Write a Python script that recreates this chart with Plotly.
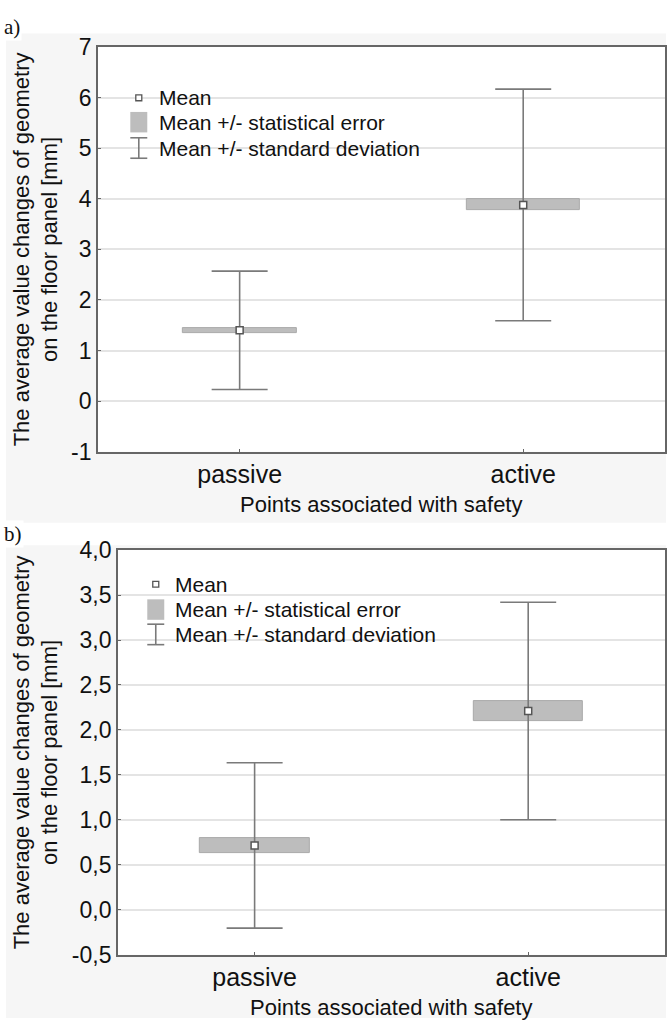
import plotly.graph_objects as go

# ---------------- data ----------------
categories = ["passive", "active"]
cat_pos = [0, 1]

# panel a
mean_a = [1.40, 3.88]
se_a = [0.05, 0.105]
sd_a = [1.17, 2.29]
yticks_a = [-1, 0, 1, 2, 3, 4, 5, 6, 7]
yticklabels_a = ["-1", "0", "1", "2", "3", "4", "5", "6", "7"]

# panel b
mean_b = [0.715, 2.21]
se_b = [0.085, 0.115]
sd_b = [0.92, 1.21]
yticks_b = [-0.5, 0.0, 0.5, 1.0, 1.5, 2.0, 2.5, 3.0, 3.5, 4.0]
yticklabels_b = ["-0,5", "0,0", "0,5", "1,0", "1,5", "2,0", "2,5", "3,0", "3,5", "4,0"]

legend_labels = ["Mean", "Mean +/- statistical error", "Mean +/- standard deviation"]
ytitle = "The average value changes of geometry<br>on the floor panel [mm]"
xtitle = "Points associated with safety"

# ---------------- layout geometry (pixels) ----------------
W, H = 667, 1031
FONT = "Liberation Sans, Arial, sans-serif"
BAR_COL = "#bdbdbd"
BAR_EDGE = "#a9a9a9"
ERR_COL = "#7a7a7a"
GRID_COL = "#e4e4e4"
AXIS_COL = "#666666"

def px(x):
    return x / W

def py(y):
    return 1 - y / H

panels = [
    dict(left=98, right=666, top=35, bottom=450, mean=mean_a, se=se_a, sd=sd_a,
         yr=[-1, 7], yt=yticks_a, ytl=yticklabels_a, label="a)", label_y=14,
         grey=(6, 21, 667, 523), leg_x=98, leg_dx_marker=41, leg_dx_text=59,
         leg_y=[87, 112, 139], xtitle_y=504, ytitle_x=36),
    dict(left=118, right=666, top=551, bottom=966, mean=mean_b, se=se_b, sd=sd_b,
         yr=[-0.5, 4.0], yt=yticks_b, ytl=yticklabels_b, label="b)", label_y=534,
         grey=(6, 546, 667, 1031), leg_x=118, leg_dx_marker=38, leg_dx_text=55,
         leg_y=[586, 612, 638], xtitle_y=1020, ytitle_x=36),
]

fig = go.Figure()
shapes = []
annotations = []

for i, p in enumerate(panels):
    sfx = "" if i == 0 else str(i + 1)
    xa, ya = "x" + sfx, "y" + sfx

    # SE boxes
    base = [m - s for m, s in zip(p["mean"], p["se"])]
    height = [2 * s for s in p["se"]]
    fig.add_trace(go.Bar(
        x=cat_pos, y=height, base=base, width=0.4,
        marker=dict(color=BAR_COL, line=dict(color=BAR_EDGE, width=1)),
        xaxis=xa, yaxis=ya, showlegend=False, hoverinfo="skip"))

    # SD whiskers + mean markers
    fig.add_trace(go.Scatter(
        x=cat_pos, y=p["mean"], mode="markers",
        marker=dict(symbol="square", size=7, color="white",
                    line=dict(color="#555555", width=1.5)),
        error_y=dict(type="data", array=p["sd"], symmetric=True,
                     color=ERR_COL, thickness=1.6, width=28),
        xaxis=xa, yaxis=ya, showlegend=False, hoverinfo="skip"))

    xdom = [px(p["left"]), px(p["right"])]
    ydom = [py(p["bottom"]), py(p["top"])]
    axis_common = dict(showline=True, linecolor=AXIS_COL, linewidth=1.5, mirror=True,
                       ticks="inside", ticklen=3, tickcolor=AXIS_COL, zeroline=False)
    fig.layout["xaxis" + sfx] = dict(
        domain=xdom, range=[-0.5, 1.5], anchor=ya,
        tickvals=cat_pos, ticktext=categories, showgrid=False,
        tickfont=dict(family=FONT, size=25, color="#111111"), **axis_common)
    fig.layout["yaxis" + sfx] = dict(
        domain=ydom, range=p["yr"], anchor=xa,
        tickvals=p["yt"], ticktext=p["ytl"], showgrid=True, gridcolor=GRID_COL,
        gridwidth=1.5,
        tickfont=dict(family=FONT, size=23, color="#111111"), **axis_common)

    # panel grey background, white plot area
    gx0, gy0, gx1, gy1 = p["grey"]
    shapes.append(dict(type="rect", xref="paper", yref="paper", layer="below",
                       x0=px(gx0), x1=px(gx1), y0=py(gy1), y1=py(gy0),
                       fillcolor="#f6f6f6", line=dict(width=0)))
    shapes.append(dict(type="rect", xref="paper", yref="paper", layer="below",
                       x0=xdom[0], x1=xdom[1], y0=ydom[0], y1=ydom[1],
                       fillcolor="white", line=dict(width=0)))

    # legend (manual)
    mx = p["leg_x"] + p["leg_dx_marker"]
    ly = p["leg_y"]
    shapes.append(dict(type="rect", xref="paper", yref="paper",
                       x0=px(mx - 3), x1=px(mx + 3), y0=py(ly[0] + 3), y1=py(ly[0] - 3),
                       fillcolor="white", line=dict(color="#555555", width=1.3)))
    shapes.append(dict(type="rect", xref="paper", yref="paper",
                       x0=px(mx - 8.5), x1=px(mx + 8.5), y0=py(ly[1] + 10.5), y1=py(ly[1] - 10.5),
                       fillcolor=BAR_COL, line=dict(width=0)))
    for yy in (ly[2] - 11, ly[2] + 10):
        shapes.append(dict(type="line", xref="paper", yref="paper",
                           x0=px(mx - 8.5), x1=px(mx + 8.5), y0=py(yy), y1=py(yy),
                           line=dict(color=ERR_COL, width=1.6)))
    shapes.append(dict(type="line", xref="paper", yref="paper",
                       x0=px(mx), x1=px(mx), y0=py(ly[2] - 11), y1=py(ly[2] + 10),
                       line=dict(color=ERR_COL, width=1.6)))
    for txt, yy in zip(legend_labels, ly):
        annotations.append(dict(text=txt, xref="paper", yref="paper",
                                x=px(p["leg_x"] + p["leg_dx_text"]), y=py(yy),
                                xanchor="left", yanchor="middle", showarrow=False,
                                font=dict(family=FONT, size=21, color="#111111")))

    # axis titles
    annotations.append(dict(text=xtitle, xref="paper", yref="paper",
                            x=px((p["left"] + p["right"]) / 2), y=py(p["xtitle_y"]),
                            xanchor="center", yanchor="middle", showarrow=False,
                            font=dict(family=FONT, size=22, color="#111111")))
    annotations.append(dict(text=ytitle, xref="paper", yref="paper", textangle=-90,
                            x=px(p["ytitle_x"]), y=py((p["top"] + p["bottom"]) / 2),
                            xanchor="center", yanchor="middle", showarrow=False,
                            font=dict(family=FONT, size=22, color="#111111")))
    # panel label
    annotations.append(dict(text=p["label"], xref="paper", yref="paper",
                            x=px(2), y=py(p["label_y"]), xanchor="left", yanchor="middle",
                            showarrow=False, bgcolor="white",
                            font=dict(family="Liberation Serif, Times New Roman, serif",
                                      size=21, color="#111111")))

fig.update_layout(
    width=W, height=H, margin=dict(l=0, r=0, t=0, b=0),
    paper_bgcolor="white", plot_bgcolor="white",
    shapes=shapes, annotations=annotations, showlegend=False, bargap=0,
)

fig.write_html("out.html", config={"displayModeBar": False},
               post_script="document.body.style.margin='0';")
